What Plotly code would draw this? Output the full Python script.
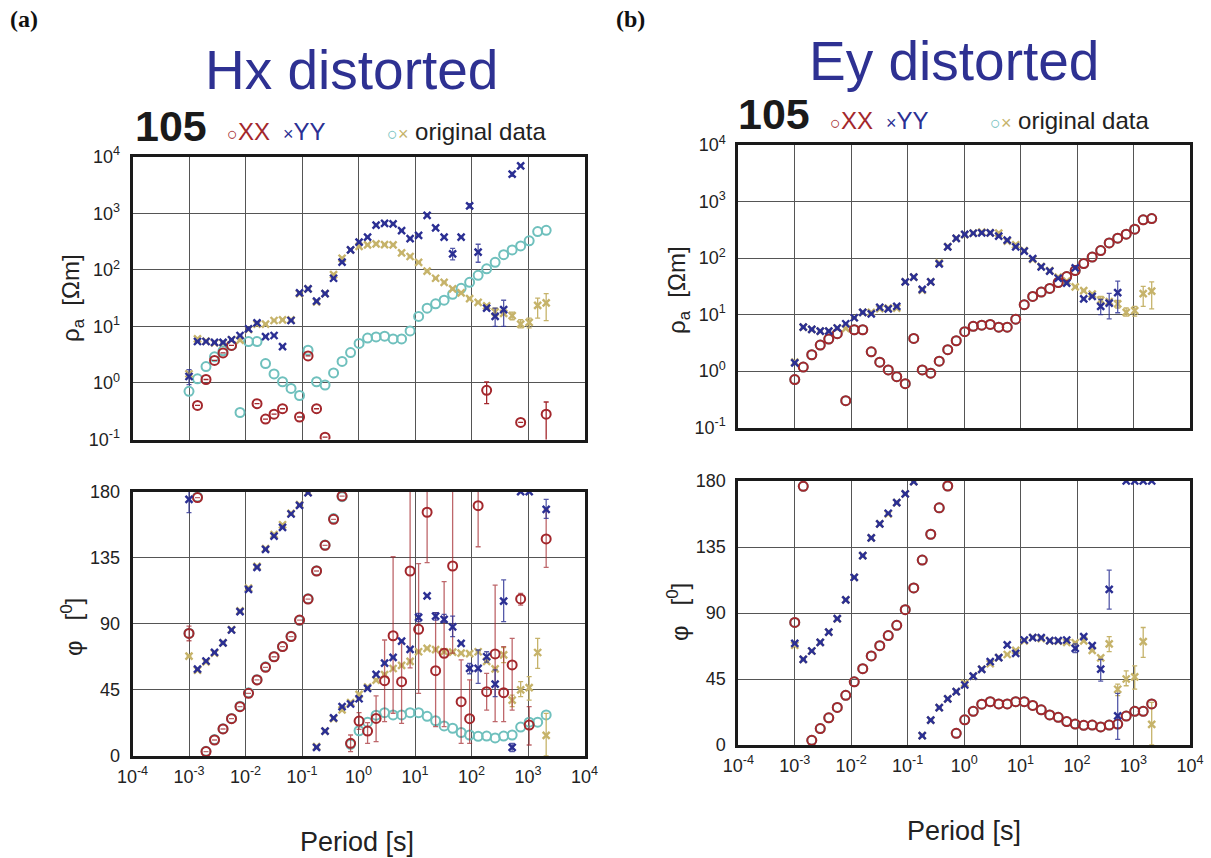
import plotly.graph_objects as go

W, H = 1211, 858

# Periods in seconds (sqrt(2) spacing from 1 ms)
periods = [0.001, 0.001414, 0.002, 0.002828, 0.004, 0.005657, 0.008, 0.01131, 0.016,
           0.02263, 0.032, 0.04525, 0.064, 0.09051, 0.128, 0.181, 0.256, 0.362, 0.512,
           0.7241, 1.024, 1.448, 2.048, 2.896, 4.096, 5.793, 8.192, 11.59, 16.38, 23.17,
           32.77, 46.34, 65.54, 92.68, 131.1, 185.4, 262.1, 370.7, 524.3, 741.5, 1049,
           1483, 2097]

N = None

# Apparent resistivity [Ohm m]
rho_xx_orig = [0.71, 1.18, 1.95, 2.9, 3.7, 4.6, 0.30, 5.4, 5.4, 2.2, 1.44, 1.05, 0.80, 0.60,
               3.8, 1.05, 0.92, 1.5, 2.4, 3.45, 5.0, 6.2, 6.5, 6.7, 6.0, 6.0, 8.3, 15, 21,
               25, 29, 37, 47, 60, 80, 104, 136, 185, 225, 265, 325, 475, 500]
rho_yy_orig = [1.45, 6.0, 5.5, 5.1, 5.1, 5.8, 5.7, 8.8, 11, 11, 12.7, 13, 13, 38, 46, 27,
               38, 82, 160, 224, 260, 276, 287, 280, 276, 200, 172, 135, 95, 71, 60, 46,
               39, 31, 26.5, 23, 18, 17, 15.5, 11, 11.8, 23.5, 26]
rho_xx_hx = [N, 0.40, 1.15, 2.5, 3.4, 4.6, N, N, 0.43, 0.23, 0.28, 0.35, N, 0.25, 3.0,
             0.35, 0.11, N, N, N, N, N, N, N, N, N, N, N, N, N, N, N, N, N, N, 0.74, N, N,
             N, 0.2, N, N, 0.28]
rho_yy_hx = [1.3, 5.4, 5.4, 5.2, 5.2, 5.8, 6.9, 9.0, 11.5, 6.6, 6.9, 4.4, 12.7, 39, 46,
             28, 38, 71, 137, 225, 310, 380, 615, 665, 650, 495, 357, 405, 920, 550, 380,
             192, 380, 1350, 205, 21, 15, 19.7, 4900, 6900, N, N, N]
rho_yy_ey = [1.4, 6.0, 5.5, 5.1, 5.1, 5.8, 6.9, 8.8, 11, 10.3, 13.5, 12.6, 14, 38, 46, 28,
             38, 79, 158, 224, 263, 275, 280, 280, 245, 208, 158, 133, 98, 70, 59, 44, 36,
             67, 19, 21, 14, 16, 24.5, N, N, N, N]

# Phase [degrees]
phi_xx_orig = [83.6, 176.4, 3.2, 11.2, 18.5, 25.6, 33.9, 43.1, 52, 60.7, 67.7, 74.6, 81.6,
               92.3, 107.1, 126.1, 143.7, 161.7, 176.6, 8, 17.2, 23, 27.8, 29.5, 28, 28,
               29.5, 29.5, 27, 24, 20.5, 18.9, 16, 14.3, 13.4, 13.6, 12.3, 13.6, 14.3,
               19.7, 23, 23, 28]
phi_yy_orig = [68, 58.4, 64.1, 70, 77, 86, 98.9, 114.3, 129.1, 141.2, 150.7, 157.5, 165.2,
               171.2, 179.6, 6.4, 17, 25.5, 31.4, 36.4, 42, 47, 51.7, 55.4, 59.6, 61.7,
               64.5, 71, 73.3, 72.5, 71, 70.8, 70, 69.7, 71, 64.5, 59.4, 68.9, 38, 45,
               46.5, 70.5, 14]
phi_xx_hx = [83.5, 176, 3, 10.9, 18.4, 25.4, 33.6, 42.7, 51.8, 60.4, 67.6, 74.5, 81.3,
             92.6, 106.9, 126, 143.5, 161.2, 177, 8.6, 23.8, 17, 25.6, 51.3, 81.9, 50.6,
             126, 86.3, 166, 58.1, 69.9, 129.4, 37, 25.4, 170.5, 43.8, 69.5, 43.1, 62,
             107, 21.1, N, 147.8]
phi_yy_hx = [174.8, 59.2, 64.7, 70.6, 77, 85.8, 98.3, 113.5, 128.5, 140.7, 149.8, 155.7,
             164.8, 170.7, 179.3, 5.9, 17, 25.9, 33.6, 35.4, 39, 46, 55.6, 63.3, 67.2,
             78.3, 72.6, 94.4, 109, 95.3, 93.1, 88, 76.7, 59.7, 59.7, 67.6, 49, 105.5,
             5.9, 180, 180, N, 168]
phi_yy_ey = [69.3, 58.4, 64.1, 70, 77, 86.1, 98.9, 114.3, 129.1, 141.2, 150.7, 158, 165.2,
             171.2, 179.6, 6.4, 17, 25.5, 31.4, 36.4, 40.9, 47, 51.6, 56.8, 59.6, 68.2,
             62.5, 71.6, 73.2, 73.2, 71.1, 71.1, 71.6, 65.9, 73.9, 67.7, 51.8, 106.1, 19.8,
             180, 180, 180, 180]

# Error bounds (low, high) keyed by period index
err_rho_xx_hx = {35: (0.43, 1.04), 42: (0.09, 0.46)}
err_rho_yy_hx = {0: (0.93, 1.72), 31: (150, 240), 33: (1250, 1480), 34: (136, 283),
                 36: (10, 21), 37: (10, 29), 38: (4500, 5300)}
err_rho_yy_ey = {36: (10, 18.5), 37: (8.4, 23.7), 38: (10.8, 39)}
err_rho_yy_orig = {36: (15, 21), 38: (13.1, 17.9), 39: (9.4, 13.1), 40: (9.4, 14),
                   41: (14, 31.6), 42: (12.6, 38)}
err_phi_xx_hx = {0: (78.5, 88.5), 19: (3, 14.3), 20: (18.2, 29.5), 21: (8.6, 22.7),
                 22: (9.8, 40.9), 23: (23.4, 79), 24: (29.1, 135.7), 25: (22.2, 79),
                 26: (60, 200), 27: (42.7, 131), 28: (131.7, 200), 29: (20, 97.6),
                 30: (20, 118.7), 31: (70, 200), 32: (8.6, 65.4), 33: (8.6, 51.8),
                 34: (142.5, 200), 35: (31.3, 56.3), 36: (23.4, 116.4), 37: (23.4, 74.5),
                 38: (31.3, 80.1), 39: (102.8, 110.8), 40: (7.5, 33.6), 42: (128.5, 168)}
err_phi_yy_hx = {0: (165.7, 185), 27: (91.5, 97.2), 29: (92.6, 97.6), 30: (91, 96.5),
                 31: (81.3, 95.3), 33: (56, 63), 34: (49.5, 72.2), 35: (64, 71),
                 36: (40.4, 58.6), 37: (91.5, 119.9), 38: (3, 8.5), 42: (161.9, 174.8)}
err_phi_yy_ey = {33: (63, 69), 36: (43.6, 58.4), 37: (92.7, 119.3), 38: (3.9, 35.2)}
err_phi_yy_orig = {37: (63.6, 73.9), 38: (33.6, 41.5), 39: (40.4, 50.6), 40: (38.1, 54),
                   41: (59.7, 80.1), 42: (0, 29)}

RED = "#a3272c"
BLUE = "#2b2f93"
TEAL = "#6fc0bd"
GOLD = "#c6b36a"


def err_arrays(vals, bounds):
    plus, minus = [], []
    for k, v in enumerate(vals):
        if v is not None and k in bounds:
            lo, hi = bounds[k]
            plus.append(hi - v)
            minus.append(v - lo)
        else:
            plus.append(None)
            minus.append(None)
    return plus, minus


fig = go.Figure()


def add(vals, xa, ya, color, kind, bounds=None, ecolor=None):
    if kind == "o":
        marker = dict(symbol="circle-open", size=9, color=color, line=dict(width=2, color=color))
    else:
        marker = dict(symbol="x-thin-open", size=7, color=color, line=dict(width=2.4, color=color))
    tr = dict(x=periods, y=vals, mode="markers", marker=marker, xaxis=xa, yaxis=ya,
              showlegend=False, cliponaxis=True)
    if bounds:
        p, m = err_arrays(vals, bounds)
        tr["error_y"] = dict(type="data", array=p, arrayminus=m, symmetric=False,
                             color=ecolor or color, thickness=1.3, width=2.5)
    fig.add_trace(go.Scatter(**tr))


# Panel (a): Hx distorted
add(rho_xx_orig, "x", "y", TEAL, "o")
add(rho_yy_orig, "x", "y", GOLD, "x", err_rho_yy_orig)
add(rho_xx_hx, "x", "y", RED, "o", err_rho_xx_hx)
add(rho_yy_hx, "x", "y", BLUE, "x", err_rho_yy_hx, "rgba(43,47,147,0.8)")
add(phi_xx_orig, "x2", "y2", TEAL, "o")
add(phi_yy_orig, "x2", "y2", GOLD, "x", err_phi_yy_orig)
add(phi_xx_hx, "x2", "y2", RED, "o", err_phi_xx_hx, "rgba(163,39,44,0.7)")
add(phi_yy_hx, "x2", "y2", BLUE, "x", err_phi_yy_hx, "rgba(43,47,147,0.8)")

# Panel (b): Ey distorted (XX unaffected)
add(rho_xx_orig, "x3", "y3", TEAL, "o")
add(rho_yy_orig, "x3", "y3", GOLD, "x", err_rho_yy_orig)
add(rho_xx_orig, "x3", "y3", RED, "o")
add(rho_yy_ey, "x3", "y3", BLUE, "x", err_rho_yy_ey, "rgba(43,47,147,0.8)")
add(phi_xx_orig, "x4", "y4", TEAL, "o")
add(phi_yy_orig, "x4", "y4", GOLD, "x", err_phi_yy_orig)
add(phi_xx_orig, "x4", "y4", RED, "o")
add(phi_yy_ey, "x4", "y4", BLUE, "x", err_phi_yy_ey, "rgba(43,47,147,0.8)")

x_tickvals = [10.0 ** e for e in range(-4, 5)]
x_ticktext = ["10<sup>%d</sup>" % e for e in range(-4, 5)]
rho_tickvals = [10.0 ** e for e in range(-1, 5)]
rho_ticktext = ["10<sup>%d</sup>" % e for e in range(-1, 5)]
phi_tickvals = [0, 45, 90, 135, 180]

TICKFONT = dict(family="Liberation Sans, Arial", size=18, color="#222")
common = dict(showline=True, mirror=True, linecolor="#1a1a1a", linewidth=2.8,
              showgrid=True, gridcolor="#555555", gridwidth=1, zeroline=False,
              ticks="", tickfont=TICKFONT, automargin=False)


def xaxis(domain, anchor, labels):
    return dict(type="log", range=[-4, 4], domain=domain, anchor=anchor,
                tickvals=x_tickvals, ticktext=x_ticktext, showticklabels=labels,
                ticklabelstandoff=2, **common)


def yaxis_rho(domain, anchor):
    return dict(type="log", range=[-1, 4], domain=domain, anchor=anchor,
                tickvals=rho_tickvals, ticktext=rho_ticktext, ticklabelstandoff=6, **common)


def yaxis_phi(domain, anchor):
    return dict(range=[0, 180], domain=domain, anchor=anchor,
                tickvals=phi_tickvals, ticklabelstandoff=6, **common)


def px(x):
    return x / W


def py(y):
    return 1 - y / H


xa_dom = [px(132.5), px(584.5)]
xb_dom = [px(738.3), px(1190)]

fig.update_layout(
    width=W, height=H, autosize=False,
    margin=dict(l=0, r=0, t=0, b=0, pad=0, autoexpand=False),
    paper_bgcolor="white", plot_bgcolor="white",
    xaxis=xaxis(xa_dom, "y", False),
    yaxis=yaxis_rho([py(439.5), py(156.7)], "x"),
    xaxis2=xaxis(xa_dom, "y2", True),
    yaxis2=yaxis_phi([py(756), py(491.7)], "x2"),
    xaxis3=xaxis(xb_dom, "y3", False),
    yaxis3=yaxis_rho([py(427.7), py(145)], "x3"),
    xaxis4=xaxis(xb_dom, "y4", True),
    yaxis4=yaxis_phi([py(745), py(481)], "x4"),
)

SANS = "Liberation Sans, Arial"
ann = []


def text(x, y, s, size, color="#222", xanchor="center", angle=0, family=SANS):
    ann.append(dict(x=px(x), y=py(y), xref="paper", yref="paper", text=s, showarrow=False,
                    xanchor=xanchor, yanchor="middle", textangle=angle,
                    font=dict(family=family, size=size, color=color)))


TITLE_BLUE = "#2e3192"

for (tag, lab_x, title, tx, ty, nx, ny, leg_y, rho_y, phi_y, ax_x, per_x, per_y) in [
    ("a", 8, "Hx distorted", 351, 70, 133, 126, 131, 298, 627, 72, 357, 842),
    ("b", 614, "Ey distorted", 954, 61, 736, 114, 121, 290, 612, 678, 964, 831),
]:
    text(lab_x, 19, "<b>(%s)</b>" % tag, 24,
         color="#111", xanchor="left", family="Liberation Serif, Times New Roman")
    text(tx, ty, title, 55, color=TITLE_BLUE)
    text(nx, ny, "<b>105</b>", 43, color="#1a1a1a", xanchor="left")
    dx = nx + 92
    text(dx, leg_y,
         '<span style="font-size:18px">○</span>XX', 24, color=RED, xanchor="left")
    text(dx + 56, leg_y,
         '<span style="font-size:18px">×</span>YY', 24, color=BLUE, xanchor="left")
    text(dx + 160, leg_y,
         '<span style="color:%s;font-size:18px">○</span>'
         '<span style="color:%s;font-size:18px">×</span> original data' % (TEAL, GOLD),
         24, color="#222", xanchor="left")
    text(ax_x, rho_y, "ρ<sub>a</sub>\u00a0\u00a0[Ωm]", 24, angle=-90)
    text(ax_x, phi_y, "φ\u00a0\u00a0\u00a0[<sup>0</sup>]", 24, angle=-90)
    text(per_x, per_y, "Period [s]", 27)

fig.update_layout(annotations=ann)

fig.write_html("out.html")
